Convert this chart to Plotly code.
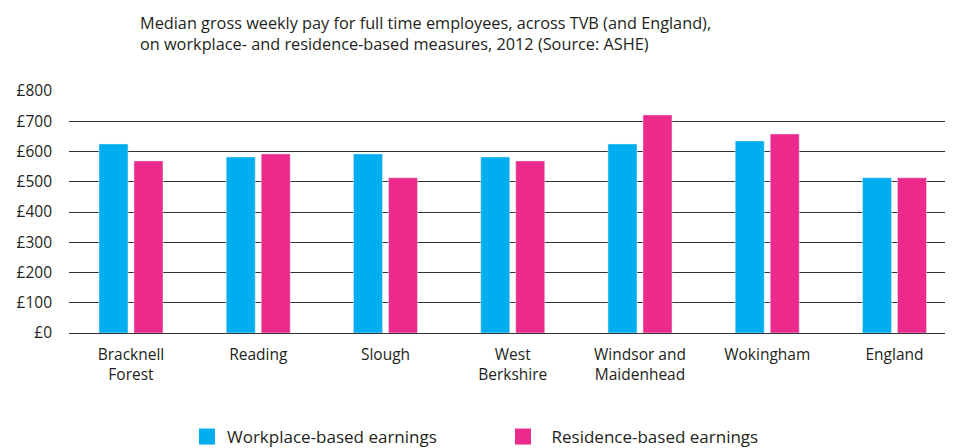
import plotly.graph_objects as go

categories = ["Bracknell<br>Forest", "Reading", "Slough", "West<br>Berkshire",
              "Windsor and<br>Maidenhead", "Wokingham", "England"]
workplace = [625, 582, 592, 582, 625, 635, 513]
residence = [569, 592, 513, 569, 721, 658, 513]
y_ticks = [0, 100, 200, 300, 400, 500, 600, 700, 800]
y_tick_text = ["£" + str(v) for v in y_ticks]

BLUE = "#00ADEE"
PINK = "#EB2A8C"
TXT = "#231f20"
FONT = "Open Sans"

fig = go.Figure()
fig.add_trace(go.Bar(x=categories, y=workplace, marker_color=BLUE, width=0.228,
                     offset=-0.2515, showlegend=False, name="Workplace-based earnings"))
fig.add_trace(go.Bar(x=categories, y=residence, marker_color=PINK, width=0.228,
                     offset=0.0236, showlegend=False, name="Residence-based earnings"))
# legend entries
fig.add_trace(go.Scatter(x=[None], y=[None], mode="markers", name="Workplace-based earnings",
                         marker=dict(symbol="square", size=17, color=BLUE)))
fig.add_trace(go.Scatter(x=[None], y=[None], mode="markers", name="\u2002Residence-based earnings",
                         marker=dict(symbol="square", size=17, color=PINK)))

fig.update_layout(
    width=953, height=448,
    margin=dict(l=69, r=8, t=91, b=115),
    paper_bgcolor="white", plot_bgcolor="white",
    font=dict(family=FONT, color=TXT, size=15),
    title=dict(
        text="Median gross weekly pay for full time employees, across TVB (and England),<br>"
             "on workplace- and residence-based measures, 2012 (Source: ASHE)",
        x=140 / 953, xanchor="left", xref="container",
        y=1 - 29 / 448, yanchor="top", yref="container",
        font=dict(family=FONT, size=16.3, color=TXT),
    ),
    barmode="overlay",
    xaxis=dict(type="category", range=[-0.487, 6.397], showgrid=False,
               showline=False, ticks="", tickfont=dict(size=15.5, color=TXT),
               ticklabelstandoff=10),
    yaxis=dict(range=[0, 800], tickvals=y_ticks, ticktext=y_tick_text,
               showgrid=True, gridcolor="#333333", gridwidth=1,
               zeroline=True, zerolinecolor="#333333", zerolinewidth=1,
               ticks="", tickfont=dict(size=15.5, color=TXT), ticklabelstandoff=16),
    legend=dict(orientation="h", xref="container", yref="container",
                x=187 / 953, xanchor="left", y=1 - 437 / 448, yanchor="middle",
                entrywidth=271, entrywidthmode="pixels",
                font=dict(size=17, color=TXT), itemclick=False),
)

fig.write_html("out.html")
